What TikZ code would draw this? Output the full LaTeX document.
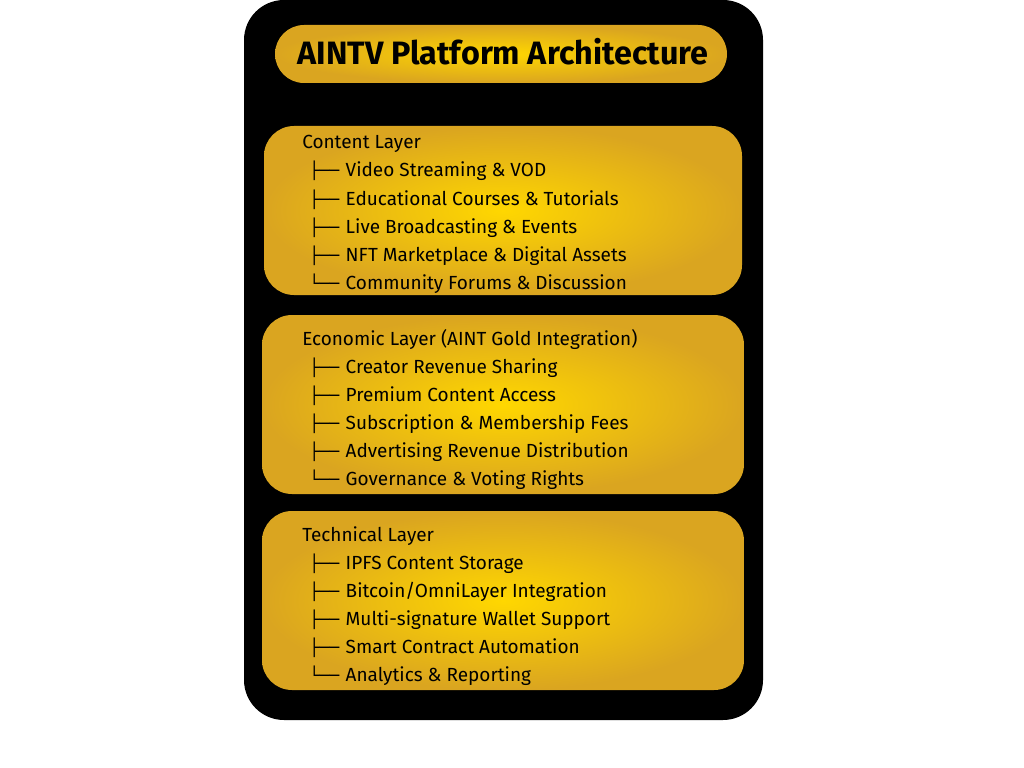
\documentclass[tikz,border=0pt]{standalone}
\usepackage{fontspec}
\setmainfont{Fira Sans}
\newfontfamily\treefont{DejaVu Sans Mono}
\definecolor{goldC}{HTML}{FFD700}
\definecolor{goldE}{HTML}{DAA520}
\tikzset{
  layerbox/.style={shading=radial,inner color=goldC,outer color=goldE,rounded corners=30*0.025cm},
  head/.style={anchor=base west,inner sep=0pt,font=\fontsize{13.5}{16}\selectfont},
  item/.style={anchor=base west,inner sep=0pt,font=\fontsize{13.5}{16}\selectfont},
}
\newcommand{\tb}{{\treefont\fontsize{11.8}{16}\selectfont ├──}\hspace{4.6pt}}
\newcommand{\te}{{\treefont\fontsize{11.8}{16}\selectfont └──}\hspace{4.6pt}}
\begin{document}
\begin{tikzpicture}[x=0.025cm,y=-0.025cm]
  \useasboundingbox (0,0) rectangle (1024,768);
  % frame
  \fill[black,rounded corners=40*0.025cm] (244,0) rectangle (763,720);
  % title
  \shade[layerbox,rounded corners=29*0.025cm] (275,25) rectangle (727,83);
  \node[font=\fontsize{23}{26}\bfseries\selectfont] (title) at (503,52) {AINTV Platform Architecture};
  % layers
  \shade[layerbox] (264,126) rectangle (742,295);
  \shade[layerbox] (262,315) rectangle (744,494);
  \shade[layerbox] (262,511) rectangle (744,690);
  % content layer
  \node[head] (content) at (302,149) {Content Layer};
  \node[item] (c1) at (309,177) {\tb Video Streaming \& VOD};
  \node[item] (c2) at (309,205) {\tb Educational Courses \& Tutorials};
  \node[item] (c3) at (309,233) {\tb Live Broadcasting \& Events};
  \node[item] (c4) at (309,261) {\tb NFT Marketplace \& Digital Assets};
  \node[item] (c5) at (309,289) {\te Community Forums \& Discussion};
  % economic layer
  \node[head] (economic) at (302,345) {Economic Layer (AINT Gold Integration)};
  \node[item] (e1) at (309,373) {\tb Creator Revenue Sharing};
  \node[item] (e2) at (309,401) {\tb Premium Content Access};
  \node[item] (e3) at (309,429) {\tb Subscription \& Membership Fees};
  \node[item] (e4) at (309,457) {\tb Advertising Revenue Distribution};
  \node[item] (e5) at (309,485) {\te Governance \& Voting Rights};
  % technical layer
  \node[head] (technical) at (302,541) {Technical Layer};
  \node[item] (t1) at (309,569) {\tb IPFS Content Storage};
  \node[item] (t2) at (309,597) {\tb Bitcoin/OmniLayer Integration};
  \node[item] (t3) at (309,625) {\tb Multi-signature Wallet Support};
  \node[item] (t4) at (309,653) {\tb Smart Contract Automation};
  \node[item] (t5) at (309,681) {\te Analytics \& Reporting};
\end{tikzpicture}
\end{document}
